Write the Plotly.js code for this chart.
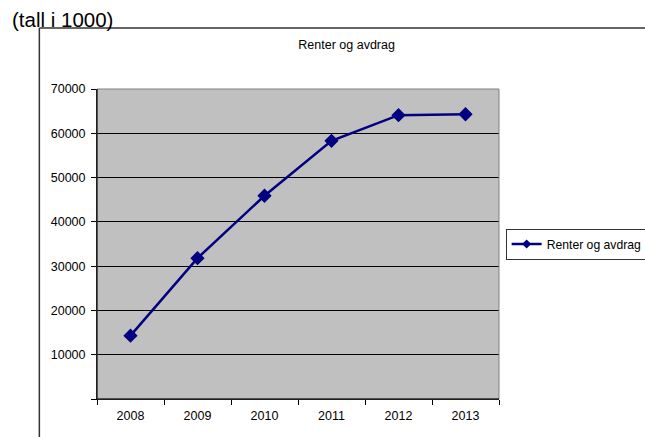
<!DOCTYPE html>
<html>
<head>
<meta charset="utf-8">
<script src="https://cdn.plot.ly/plotly-3.0.1.min.js"></script>
<style>html,body{margin:0;padding:0;background:#fff;}#chart{width:645px;height:437px;}</style>
</head>
<body>
<div id="chart"></div>
<script>
const years = ['2008', '2009', '2010', '2011', '2012', '2013'];
const renterOgAvdrag = [14300, 31800, 45900, 58300, 64100, 64300];
const seriesName = 'Renter og avdrag';
const chartTitle = 'Renter og avdrag';
const unitNote = '(tall i 1000)';
const yTickVals = [0, 10000, 20000, 30000, 40000, 50000, 60000, 70000];
const yTickText = ['', '10000', '20000', '30000', '40000', '50000', '60000', '70000'];

const FONT = 'Liberation Sans, Arial, sans-serif';

const trace = {
  x: years,
  y: renterOgAvdrag,
  type: 'scatter',
  mode: 'lines+markers',
  name: seriesName,
  showlegend: false,
  line: {color: '#000080', width: 2.5},
  marker: {symbol: 'diamond', size: 11, color: '#000080'}
};

// legend entry only (smaller symbol, as in the reference legend)
const legendTrace = {
  x: [null],
  y: [null],
  type: 'scatter',
  mode: 'lines+markers',
  name: seriesName,
  showlegend: true,
  line: {color: '#000080', width: 2.5},
  marker: {symbol: 'diamond', size: 7, color: '#000080'}
};

const layout = {
  width: 645, height: 437,
  margin: {l: 96.7, r: 146, t: 89, b: 38, pad: 0, autoexpand: false},
  paper_bgcolor: '#ffffff',
  plot_bgcolor: '#c0c0c0',
  font: {family: FONT, size: 12.5, color: '#000'},
  showlegend: true,
  title: {
    text: chartTitle,
    font: {family: FONT, size: 12.5, color: '#000'},
    xref: 'paper', yref: 'paper',
    x: 0.621, xanchor: 'center',
    y: 1.135, yanchor: 'middle'
  },
  xaxis: {
    type: 'category',
    categoryorder: 'array', categoryarray: years,
    range: [-0.5, 5.5],
    tickson: 'boundaries',
    ticks: 'outside', ticklen: 5, tickcolor: '#000', tickwidth: 1,
    ticklabelstandoff: 5,
    showline: true, linecolor: '#000', linewidth: 1,
    showgrid: false, zeroline: false,
    tickfont: {family: FONT, size: 12.5, color: '#000'},
    fixedrange: true
  },
  yaxis: {
    range: [0, 70000],
    tickmode: 'array', tickvals: yTickVals, ticktext: yTickText,
    ticks: 'outside', ticklen: 5, tickcolor: '#000', tickwidth: 1,
    ticklabelstandoff: 3,
    showline: true, linecolor: '#000', linewidth: 1,
    showgrid: true, gridcolor: '#000', gridwidth: 1,
    zeroline: false,
    tickfont: {family: FONT, size: 12.5, color: '#000'},
    fixedrange: true
  },
  legend: {
    x: 1.0165, xanchor: 'left',
    y: 0.5, yanchor: 'middle',
    bgcolor: '#ffffff',
    bordercolor: '#333', borderwidth: 1,
    font: {family: FONT, size: 12.2, color: '#000'},
    itemwidth: 30,
    tracegroupgap: 0
  },
  shapes: [
    {type: 'rect', xref: 'paper', yref: 'paper', x0: 0, x1: 1, y0: 0, y1: 1,
     line: {color: '#808080', width: 1}, layer: 'above'},
    {type: 'line', xref: 'paper', yref: 'paper', x0: 0, x1: 0, y0: 0, y1: 1,
     line: {color: '#000', width: 1}, layer: 'above'},
    {type: 'line', xref: 'paper', yref: 'paper', x0: 0, x1: 1, y0: 0, y1: 0,
     line: {color: '#000', width: 1}, layer: 'above'},
    {type: 'line', xref: 'paper', yref: 'paper', x0: -0.1434, x1: 1.5, y0: 1.197, y1: 1.197,
     line: {color: '#333', width: 1.5}},
    {type: 'line', xref: 'paper', yref: 'paper', x0: -0.1434, x1: -0.1434, y0: -0.3, y1: 1.197,
     line: {color: '#333', width: 1.5}}
  ],
  annotations: [
    {text: unitNote, xref: 'paper', yref: 'paper', x: -0.2155, xanchor: 'left',
     y: 1.2226, yanchor: 'middle', showarrow: false,
     font: {family: FONT, size: 20.5, color: '#000'}}
  ]
};

Plotly.newPlot('chart', [trace, legendTrace], layout, {displayModeBar: false, staticPlot: true});
</script>
</body>
</html>
